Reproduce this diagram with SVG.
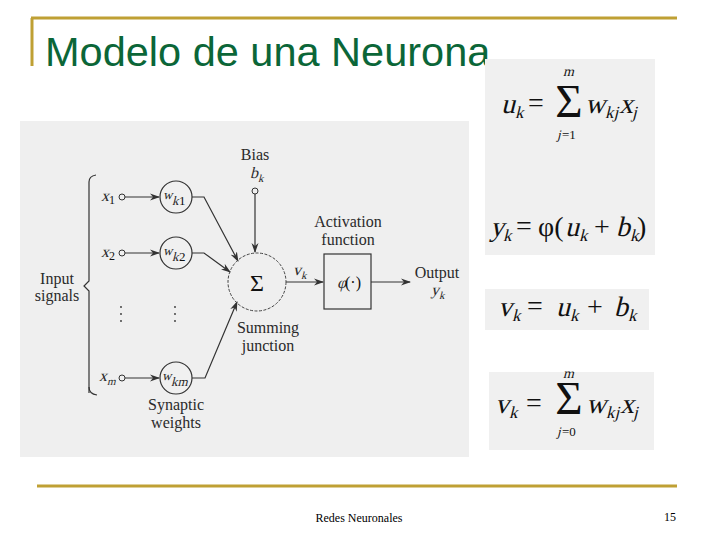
<svg xmlns="http://www.w3.org/2000/svg" width="720" height="540" viewBox="0 0 720 540">
<defs>
<style>
.gold{stroke:#BFA034;fill:none}
.lbl{font-family:"Liberation Serif","DejaVu Serif",serif;font-size:16px;fill:#2a2a2a;text-anchor:middle}
.it{font-family:"Liberation Serif","DejaVu Serif",serif;font-style:normal;fill:#2a2a2a}
.m{font-family:"Liberation Serif","DejaVu Serif",serif;font-style:normal;fill:#111}
.mr{font-family:"Liberation Serif","DejaVu Serif",serif;fill:#111}
.ln{stroke:#333;stroke-width:1.2;fill:none}
.nd{stroke:#333;stroke-width:1.2;fill:#f0f0f0}
.panel{fill:#efefef}
</style>
<marker id="ah" markerWidth="10" markerHeight="8" refX="9" refY="4" orient="auto" markerUnits="userSpaceOnUse">
<path d="M0,0.5 L10,4 L0,7.5 L3,4 Z" fill="#333"/>
</marker>
</defs>
<rect width="720" height="540" fill="#fff"/>
<!-- slide frame -->
<line class="gold" x1="31" y1="18" x2="677" y2="18" stroke-width="3"/>
<line class="gold" x1="32" y1="18" x2="32" y2="66" stroke-width="3"/>
<line class="gold" x1="37" y1="486" x2="677" y2="486" stroke-width="3"/>
<text x="45" y="66" font-family="'Liberation Sans',Arial,sans-serif" font-size="41.5" fill="#0b6638">Modelo de una Neurona</text>
<text x="359" y="522" font-family="'Liberation Serif',serif" font-size="12" fill="#000" text-anchor="middle">Redes Neuronales</text>
<text x="670" y="521" font-family="'Liberation Serif',serif" font-size="12" fill="#000" text-anchor="middle">15</text>

<!-- diagram panel -->
<rect class="panel" x="20" y="121" width="449" height="336"/>

<g id="connectors">
<path class="ln" d="M89,393 L89,291 L84,286 L89,281 L89,182 Q89,176 96,175"/>
<path class="ln" d="M89,387 Q89,394 97,395"/>
<line class="ln" x1="125" y1="197" x2="159" y2="197" marker-end="url(#ah)"/>
<line class="ln" x1="125" y1="253" x2="159" y2="253" marker-end="url(#ah)"/>
<line class="ln" x1="125" y1="378" x2="159" y2="378" marker-end="url(#ah)"/>
<path class="ln" d="M192,197 L204,197 L238,261" marker-end="url(#ah)" stroke="#777"/>
<path class="ln" d="M192,253 L204,253 L230,272" marker-end="url(#ah)"/>
<path class="ln" d="M192,378 L205,378 L237,302" marker-end="url(#ah)"/>
<line class="ln" x1="255" y1="194" x2="255" y2="252" marker-end="url(#ah)"/>
<line class="ln" x1="286" y1="282" x2="323" y2="282" marker-end="url(#ah)"/>
<line class="ln" x1="371" y1="282" x2="410" y2="282" marker-end="url(#ah)"/>
</g>

<g id="input-signals">
<text class="lbl" x="57" y="284">Input</text>
<text class="lbl" x="57" y="301">signals</text>
</g>
<g id="x1">
<text class="it" transform="translate(101,201) skewX(-14)" font-size="16">x</text><text class="mr" x="109" y="204" font-size="12" fill="#2a2a2a">1</text>
<circle cx="122" cy="197" r="3" fill="#efefef" stroke="#333"/>
</g>
<g id="x2">
<text class="it" transform="translate(101,257) skewX(-14)" font-size="16">x</text><text class="mr" x="109" y="260" font-size="12" fill="#2a2a2a">2</text>
<circle cx="122" cy="253" r="3" fill="#efefef" stroke="#333"/>
</g>
<g id="xm">
<text class="it" transform="translate(99,381) skewX(-14)" font-size="16">x</text><text class="it" transform="translate(107,385) skewX(-14)" font-size="11">m</text>
<circle cx="122" cy="378" r="3" fill="#efefef" stroke="#333"/>
</g>
<g id="dots">
<circle cx="121" cy="307" r="0.9" fill="#333"/><circle cx="121" cy="314" r="0.9" fill="#333"/><circle cx="121" cy="321" r="0.9" fill="#333"/>
<circle cx="175" cy="307" r="0.9" fill="#333"/><circle cx="175" cy="314" r="0.9" fill="#333"/><circle cx="175" cy="321" r="0.9" fill="#333"/>
</g>
<g id="wk1">
<circle class="nd" cx="176" cy="197" r="16"/>
<text class="it" transform="translate(163,199) skewX(-14)" font-size="13">w</text><text class="it" transform="translate(172,205) skewX(-14)" font-size="13">k</text><text class="mr" x="179" y="205" font-size="13" fill="#2a2a2a">1</text>
</g>
<g id="wk2">
<circle class="nd" cx="176" cy="253" r="16"/>
<text class="it" transform="translate(163,255) skewX(-14)" font-size="13">w</text><text class="it" transform="translate(172,261) skewX(-14)" font-size="13">k</text><text class="mr" x="179" y="261" font-size="13" fill="#2a2a2a">2</text>
</g>
<g id="wkm">
<circle class="nd" cx="176" cy="378" r="16"/>
<text class="it" transform="translate(162,380) skewX(-14)" font-size="13">w</text><text class="it" transform="translate(171,386) skewX(-14)" font-size="13">km</text>
</g>
<g id="synaptic">
<text class="lbl" x="176" y="410">Synaptic</text>
<text class="lbl" x="176" y="428">weights</text>
</g>
<g id="bias">
<text class="lbl" x="255" y="160">Bias</text>
<text class="it" transform="translate(250,178) skewX(-14)" font-size="16">b</text><text class="it" transform="translate(258,182) skewX(-14)" font-size="11">k</text>
<circle cx="255" cy="191" r="3" fill="#efefef" stroke="#333"/>
</g>
<g id="sum">
<circle cx="257" cy="282" r="29" fill="none" stroke="#444" stroke-width="1" stroke-dasharray="3,1.5"/>
<text class="mr" x="257" y="291" font-size="24" text-anchor="middle" fill="#222">Σ</text>
<text class="lbl" x="268" y="333">Summing</text>
<text class="lbl" x="268" y="351">junction</text>
</g>
<g id="vk">
<text class="it" transform="translate(293,275) skewX(-14)" font-size="16">v</text><text class="it" transform="translate(301,279) skewX(-14)" font-size="11">k</text>
</g>
<g id="activation">
<text class="lbl" x="348" y="227">Activation</text>
<text class="lbl" x="348" y="245">function</text>
<rect x="324" y="254" width="47" height="55" fill="#efefef" stroke="#333" stroke-width="1.2"/>
<text class="it" transform="translate(337,288) skewX(-14)" font-size="16">φ</text><text class="mr" x="345" y="288" font-size="16" fill="#2a2a2a">(·)</text>
</g>
<g id="output">
<text class="lbl" x="437" y="278">Output</text>
<text class="it" transform="translate(431,295) skewX(-14)" font-size="16">y</text><text class="it" transform="translate(439,299) skewX(-14)" font-size="11">k</text>
</g>

<!-- formulas -->
<g id="formula-uk-yk">
<rect x="485" y="59" width="170" height="196" fill="#f0f0f0"/>
<text class="m" transform="translate(501,113) skewX(-14)" font-size="28">u</text><text class="m" transform="translate(515,118) skewX(-14)" font-size="17">k</text>
<text class="mr" x="528" y="112" font-size="28">=</text>
<text class="mr" x="569" y="117" font-size="47" text-anchor="middle">Σ</text>
<text class="m" transform="translate(563,76) skewX(-14)" font-size="14">m</text>
<text class="m" transform="translate(557,139) skewX(-14)" font-size="13">j</text><text class="mr" x="562" y="139" font-size="13">=1</text>
<text class="m" transform="translate(585,113) skewX(-14)" font-size="28">w</text><text class="m" transform="translate(605,118) skewX(-14)" font-size="17">kj</text>
<text class="m" transform="translate(619,113) skewX(-14)" font-size="28">x</text><text class="m" transform="translate(632,118) skewX(-14)" font-size="17">j</text>
<text class="m" transform="translate(490,236) skewX(-14)" font-size="28">y</text><text class="m" transform="translate(503,241) skewX(-14)" font-size="17">k</text>
<text class="mr" x="516" y="235" font-size="28">=</text>
<text class="mr" x="538" y="236" font-size="28">φ(</text>
<text class="m" transform="translate(565,236) skewX(-14)" font-size="28">u</text><text class="m" transform="translate(579,241) skewX(-14)" font-size="17">k</text>
<text class="mr" x="594" y="236" font-size="28">+</text>
<text class="m" transform="translate(616,236) skewX(-14)" font-size="28">b</text><text class="m" transform="translate(630,241) skewX(-14)" font-size="17">k</text>
<text class="mr" x="637" y="236" font-size="28">)</text>
</g>
<g id="formula-vk1">
<rect x="485" y="289" width="164" height="41" fill="#f0f0f0"/>
<text class="m" transform="translate(498,316) skewX(-14)" font-size="28">v</text><text class="m" transform="translate(512,321) skewX(-14)" font-size="17">k</text>
<text class="mr" x="527" y="315" font-size="28">=</text>
<text class="m" transform="translate(556,316) skewX(-14)" font-size="28">u</text><text class="m" transform="translate(570,321) skewX(-14)" font-size="17">k</text>
<text class="mr" x="587" y="316" font-size="28">+</text>
<text class="m" transform="translate(614,316) skewX(-14)" font-size="28">b</text><text class="m" transform="translate(628,321) skewX(-14)" font-size="17">k</text>
</g>
<g id="formula-vk2">
<rect x="489" y="372" width="165" height="78" fill="#f0f0f0"/>
<text class="m" transform="translate(495,413) skewX(-14)" font-size="28">v</text><text class="m" transform="translate(509,418) skewX(-14)" font-size="17">k</text>
<text class="mr" x="526" y="412" font-size="28">=</text>
<text class="mr" x="569" y="414" font-size="47" text-anchor="middle">Σ</text>
<text class="m" transform="translate(563,378) skewX(-14)" font-size="14">m</text>
<text class="m" transform="translate(557,436) skewX(-14)" font-size="13">j</text><text class="mr" x="562" y="436" font-size="13">=0</text>
<text class="m" transform="translate(586,413) skewX(-14)" font-size="28">w</text><text class="m" transform="translate(606,418) skewX(-14)" font-size="17">kj</text>
<text class="m" transform="translate(620,413) skewX(-14)" font-size="28">x</text><text class="m" transform="translate(633,418) skewX(-14)" font-size="17">j</text>
</g>
</svg>
